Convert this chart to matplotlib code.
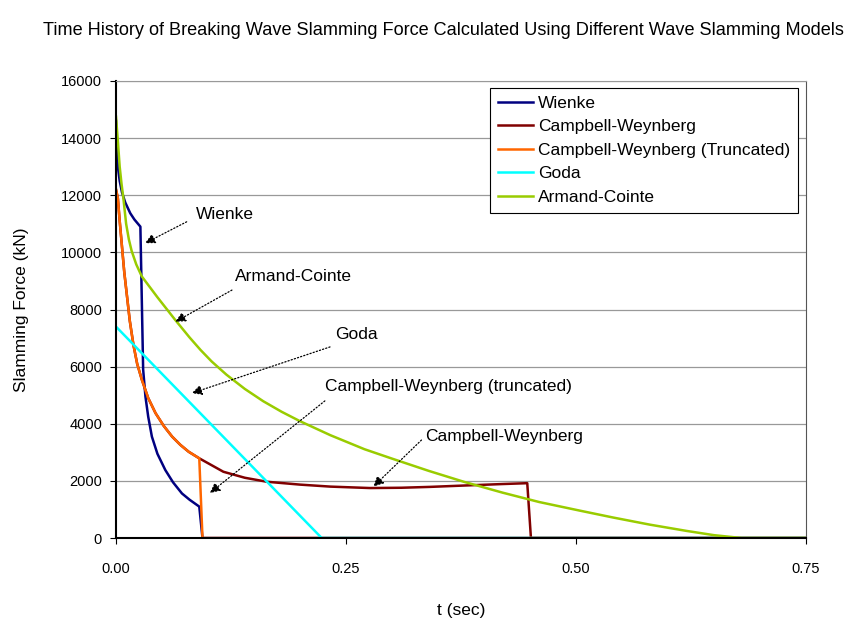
import numpy as np
import matplotlib
matplotlib.use('Agg')
import matplotlib.pyplot as plt

plt.rcParams['font.family'] = ['Liberation Sans', 'DejaVu Sans']

# data (t in sec, force in kN)
t_wienke = [0.0, 0.001, 0.002, 0.004, 0.0065, 0.01, 0.0155, 0.02, 0.0265, 0.0295, 0.032, 0.035, 0.039,
            0.045, 0.0536, 0.062, 0.0717, 0.08, 0.0905, 0.094, 0.75]
f_wienke = [14600, 13700, 13000, 12500, 12100, 11750, 11370, 11150, 10900, 5900, 4950, 4250, 3550,
            2950, 2380, 1950, 1560, 1340, 1100, 0, 0]

t_cw = [0.0, 0.002, 0.004, 0.0065, 0.009, 0.012, 0.015, 0.019, 0.023, 0.028, 0.035, 0.043, 0.052,
        0.061, 0.07, 0.079, 0.0905, 0.1, 0.1167, 0.14, 0.164, 0.2, 0.233, 0.276, 0.31, 0.341, 0.388,
        0.42, 0.447, 0.451, 0.75]
f_cw = [12200, 11900, 11100, 10200, 9300, 8450, 7600, 6750, 6100, 5550, 4900, 4370, 3920,
        3550, 3260, 3020, 2790, 2620, 2320, 2110, 1970, 1870, 1800, 1750, 1760, 1790, 1850,
        1890, 1920, 0, 0]

t_cwt = [0.0, 0.002, 0.004, 0.0065, 0.009, 0.012, 0.015, 0.019, 0.023, 0.028, 0.035, 0.043, 0.052,
         0.061, 0.07, 0.079, 0.0905, 0.094, 0.75]
f_cwt = [12200, 11900, 11100, 10200, 9300, 8450, 7600, 6750, 6100, 5550, 4900, 4370, 3920,
         3550, 3260, 3020, 2790, 0, 0]

t_goda = [0.0, 0.12, 0.2236, 0.75]
f_goda = [7400, 3430, 0, 0]

t_ac = [0.0, 0.002, 0.004, 0.006, 0.008, 0.011, 0.014, 0.017, 0.022, 0.028, 0.045, 0.0645,
        0.08, 0.092, 0.104, 0.12, 0.14, 0.16, 0.18, 0.2, 0.233, 0.27, 0.3, 0.34, 0.378, 0.42,
        0.46, 0.504, 0.54, 0.58, 0.62, 0.65, 0.68, 0.75]
f_ac = [14750, 13900, 13000, 12400, 11900, 11000, 10450, 10050, 9580, 9160, 8430, 7630,
        7020, 6580, 6180, 5720, 5220, 4790, 4420, 4090, 3600, 3110, 2780, 2350, 1970, 1590,
        1260, 960, 720, 470, 250, 100, 0, 0]

fig = plt.figure(figsize=(8.48, 6.22), dpi=100)
ax = fig.add_axes([0.1368, 0.135, 0.8137, 0.7348])

ax.plot(t_wienke, f_wienke, color='#000080', lw=1.8, label='Wienke')
ax.plot(t_cw, f_cw, color='#800000', lw=1.8, label='Campbell-Weynberg')
ax.plot(t_cwt, f_cwt, color='#FF6600', lw=1.8, label='Campbell-Weynberg (Truncated)')
ax.plot(t_goda, f_goda, color='#00FFFF', lw=1.8, label='Goda')
ax.plot(t_ac, f_ac, color='#99CC00', lw=1.8, label='Armand-Cointe')

ax.set_xlim(0, 0.75)
ax.set_ylim(0, 16000)
ax.set_xticks([0, 0.25, 0.5, 0.75])
ax.set_xticklabels(['0.00', '0.25', '0.50', '0.75'])
ax.set_yticks(np.arange(0, 16001, 2000))
ax.tick_params(direction='out', length=4, labelsize=10.5)
ax.tick_params(axis='x', pad=13)
ax.tick_params(axis='y', pad=6)
ax.grid(axis='y', color='#999999', lw=0.9)
ax.set_axisbelow(True)

ax.spines['left'].set_color('black')
ax.spines['bottom'].set_color('black')
ax.spines['left'].set_linewidth(1.5)
ax.spines['bottom'].set_linewidth(1.5)
ax.spines['top'].set_color('#999999')
ax.spines['right'].set_color('#555555')

ax.set_ylabel('Slamming Force (kN)', fontsize=12.5, labelpad=23)
ax.set_xlabel('t (sec)', fontsize=12.5, labelpad=20)
fig.suptitle('Time History of Breaking Wave Slamming Force Calculated Using Different Wave Slamming Models',
             x=0.523, y=0.965, fontsize=13.1)

leg = ax.legend(loc='upper right', bbox_to_anchor=(0.988, 0.985), fontsize=12.5, fancybox=False,
                framealpha=1, edgecolor='black', handlelength=2.0, handletextpad=0.3,
                labelspacing=0.48, borderpad=0.45, borderaxespad=0)
leg.get_frame().set_linewidth(0.8)

# annotations with dotted arrows
notes = [
    ('Wienke', (0.087, 11340), (0.0768, 11070), (0.0315, 10320)),
    ('Armand-Cointe', (0.129, 9140), (0.126, 8680), (0.0645, 7570)),
    ('Goda', (0.238, 7110), (0.2326, 6690), (0.0823, 5070)),
    ('Campbell-Weynberg (truncated)', (0.227, 5290), (0.227, 4800), (0.102, 1575)),
    ('Campbell-Weynberg', (0.336, 3540), (0.332, 3430), (0.2797, 1800)),
]
for label, txt, tail, head in notes:
    ax.text(txt[0], txt[1], label, fontsize=12.5, ha='left', va='center')
    ax.annotate('', xy=head, xytext=tail,
                arrowprops=dict(arrowstyle='-|>', linestyle=':', color='black', lw=0.9,
                                mutation_scale=15, shrinkA=0, shrinkB=0))

fig.savefig('out.png', dpi=100)
